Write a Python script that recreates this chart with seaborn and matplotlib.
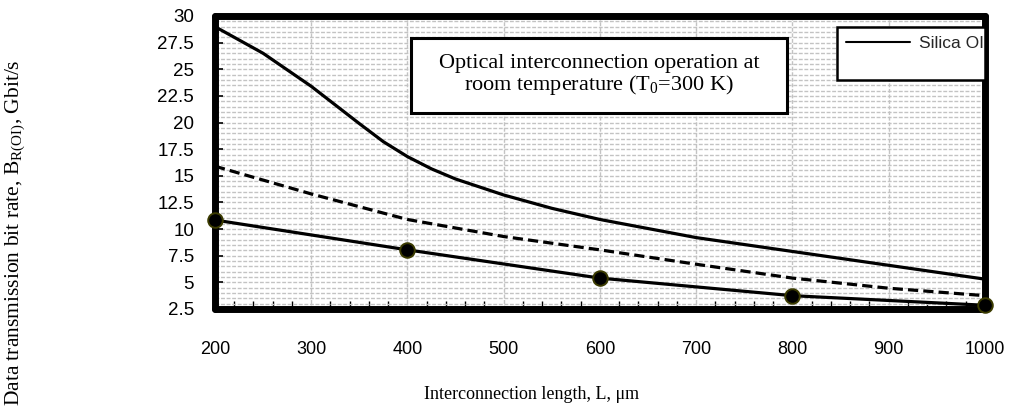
import numpy as np
import pandas as pd
import matplotlib
matplotlib.use("Agg")
import matplotlib.pyplot as plt
from matplotlib.lines import Line2D
from matplotlib.patches import Rectangle
from matplotlib.ticker import MultipleLocator
import seaborn as sns

# Bit rate (Gbit/s) versus interconnection length (um)
length_upper = [200, 250, 300, 350, 375, 400, 425, 450, 500, 550, 600, 700, 800, 900, 1000]
rate_upper = [29.0, 26.5, 23.4, 19.9, 18.2, 16.8, 15.65, 14.7, 13.2, 11.95, 10.9, 9.2, 7.9, 6.6, 5.3]

length_dashed = [200, 300, 400, 500, 600, 700, 800, 900, 1000]
rate_dashed = [15.9, 13.3, 10.9, 9.3, 8.05, 6.7, 5.4, 4.45, 3.75]

length_marked = [200, 400, 600, 800, 1000]
rate_marked = [10.85, 8.05, 5.4, 3.75, 2.85]

y_ticks = [2.5, 5, 7.5, 10, 12.5, 15, 17.5, 20, 22.5, 25, 27.5, 30]
x_ticks = [200, 300, 400, 500, 600, 700, 800, 900, 1000]
y_tick_labels = ["2.5", "5", "7.5", "10", "12.5", "15", "17.5", "20", "22.5", "25", "27.5", "30"]

legend_label = "Silica OI"
note_text = "Optical interconnection operation at\nroom temperature (T$_0$=300 K)"
x_label = "Interconnection length, L, \u03bcm"
y_label = "Data transmission bit rate, B$_{\\mathrm{R(OI)}}$, Gbit/s"

sns.set_theme(style="white")
plt.rcParams["font.family"] = ["Liberation Sans", "DejaVu Sans"]
plt.rcParams["mathtext.fontset"] = "custom"
plt.rcParams["mathtext.rm"] = "Liberation Serif"
plt.rcParams["mathtext.it"] = "Liberation Serif:italic"

serif = ["Liberation Serif", "DejaVu Serif"]

fig = plt.figure(figsize=(10.14, 4.09), dpi=100)
ax = fig.add_axes([0.2120, 0.2445, 0.7594, 0.7164])

df_upper = pd.DataFrame({"L": length_upper, "B": rate_upper})
df_dashed = pd.DataFrame({"L": length_dashed, "B": rate_dashed})
df_marked = pd.DataFrame({"L": length_marked, "B": rate_marked})

sns.lineplot(data=df_upper, x="L", y="B", ax=ax, color="black", lw=2.3,
             estimator=None, sort=True, zorder=4)
ax.lines[-1].set_solid_joinstyle("round")
sns.lineplot(data=df_dashed, x="L", y="B", ax=ax, color="black", lw=2.3,
             estimator=None, zorder=4, dashes=False)
ax.lines[-1].set_dashes((3.2, 1.6))
sns.lineplot(data=df_marked, x="L", y="B", ax=ax, color="black", lw=2.3,
             estimator=None, marker="o", markersize=10.5, markerfacecolor="black",
             markeredgecolor="#3b3b00", markeredgewidth=1.4, zorder=6)
ax.lines[-1].set_clip_on(False)

ax.set_xlim(200, 1000)
ax.set_ylim(2.5, 30)
ax.set_xticks(x_ticks)
ax.set_yticks(y_ticks)
ax.set_yticklabels(y_tick_labels)
ax.xaxis.set_minor_locator(MultipleLocator(20))
ax.yaxis.set_minor_locator(MultipleLocator(0.5))

# dense dashed grid
ax.grid(which="both", axis="y", color="#c3c3c3", lw=1.0, linestyle=(0, (2.8, 1.2)))
ax.grid(which="major", axis="x", color="#c3c3c3", lw=1.0, linestyle=(0, (2.8, 1.2)))
ax.set_axisbelow(True)

ax.tick_params(axis="both", which="major", direction="in", length=6, width=1.2,
               color="black", labelcolor="black")
ax.tick_params(axis="x", which="major", pad=23, labelsize=13)
ax.tick_params(axis="y", which="major", pad=15, left=True, labelsize=13.5)
ax.tick_params(axis="x", which="minor", direction="in", length=5.5, width=1.0,
               color="black", bottom=True)
ax.tick_params(axis="y", which="minor", left=False)

for side in ["left", "right", "top", "bottom"]:
    sp = ax.spines[side]
    sp.set_visible(True)
    sp.set_color("black")
    sp.set_linewidth(5)
    sp.set_capstyle("round")

ax.set_xlabel(x_label, family=serif, fontsize=13, color="black")
ax.set_ylabel(y_label, family=serif, fontsize=15.5, color="black")
ax.xaxis.set_label_coords(0.4117, -0.2935)
ax.xaxis.label.set_va("center")
ax.yaxis.set_label_coords(-0.2597, 0.262)
ax.yaxis.label.set_va("center")

# annotation box
ax.add_patch(Rectangle((0.2545, 0.6689), 0.4884, 0.2560, transform=ax.transAxes,
                       facecolor="white", edgecolor="black", lw=2.2, zorder=7))
ax.text(0.4987, 0.7969, note_text, transform=ax.transAxes, ha="center", va="center",
        family=serif, fontsize=16, color="black", zorder=8, linespacing=1.05)

# legend
handles = [Line2D([], [], color="black", lw=1.5),
           Line2D([], [], color="none", lw=0)]
leg = ax.legend(handles=handles, labels=[legend_label, " "], loc="upper left",
                bbox_to_anchor=(0.8078, 0.7870, 0.1922, 0.1755), mode="expand",
                borderaxespad=0, frameon=True, fancybox=False, framealpha=1,
                edgecolor="black", handlelength=3.7, handletextpad=0.5,
                labelspacing=0.3, borderpad=0.5, fontsize=12.5)
leg.get_frame().set_linewidth(1.8)
leg.set_zorder(9)
for t in leg.get_texts():
    t.set_clip_box(ax.bbox)
    t.set_clip_on(True)

fig.savefig("out.png", dpi=100, facecolor="white")
